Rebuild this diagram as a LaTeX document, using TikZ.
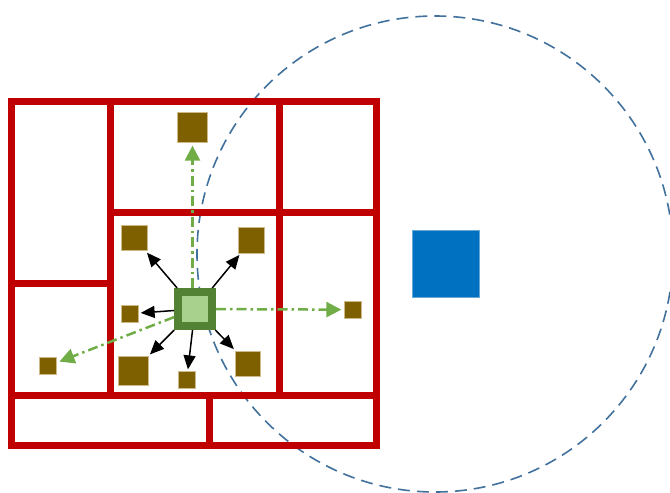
\documentclass[tikz,border=0pt]{standalone}
\usetikzlibrary{arrows.meta}
\definecolor{gridred}{HTML}{C00000}
\definecolor{ringblue}{HTML}{41719C}
\definecolor{dgreen}{HTML}{548235}
\definecolor{lgreen}{HTML}{A9D18E}
\definecolor{agreen}{HTML}{70AD47}
\definecolor{brownf}{HTML}{7F6000}
\definecolor{brownd}{HTML}{CDB98A}
\definecolor{bluef}{HTML}{0070C0}
\begin{document}
\begin{tikzpicture}[x=1pt,y=-1pt,
  wall/.style={draw=gridred,line width=7pt},
  ring/.style={draw=ringblue,line width=1.6pt,dash pattern=on 12pt off 7pt},
  obj/.style={rectangle,fill=brownf,draw=brownd,line width=0.8pt,inner sep=0pt,minimum width=#1,minimum height=#1},
  src/.style={rectangle,fill=lgreen,draw=dgreen,line width=8pt,inner sep=0pt,minimum size=34pt},
  tgt/.style={rectangle,fill=bluef,draw=bluef!60!white,line width=0.6pt,inner sep=0pt,minimum size=67pt},
  blk/.style={draw=black,line width=1.5pt,-{Triangle[length=14pt,width=12pt]},shorten >=2pt},
  grn/.style={draw=agreen,line width=2.5pt,dash pattern=on 10pt off 4pt on 2.5pt off 4pt,-{Triangle[length=15pt,width=15pt]},shorten >=3pt}]
\clip (0,0) rectangle (670,493);
% range circle
\coordinate (rc) at (435,254);
\draw[ring] (rc) circle (238);
% red walls
\draw[wall] (11,101.5) rectangle (376,445.5);
\draw[wall] (110,101.5) -- (110,395);
\draw[wall] (279,101.5) -- (279,395);
\draw[wall] (110,212.5) -- (376,212.5);
\draw[wall] (11,283) -- (110,283);
\draw[wall] (11,395) -- (376,395);
\draw[wall] (209.5,395) -- (209.5,445.5);
% blue square
\node[tgt] (b) at (445.5,264) {};
% source
\node[src] (s) at (195,309) {};
% objects
\node[obj=29.5pt] (top) at (192.5,127.5) {};
\node[obj=25.5pt] (ul) at (134.5,238) {};
\node[obj=26pt] (ur) at (251.7,240) {};
\node[obj=16.5pt] (l) at (130,313.7) {};
\node[obj=16.5pt] (r) at (353,309.7) {};
\node[obj=16.5pt] (fl) at (48,366) {};
\node[obj=29.5pt] (ll) at (133.5,371) {};
\node[obj=16.5pt] (bt) at (186.7,380) {};
\node[obj=25.5pt] (lr) at (248,363.7) {};
% arrows
\draw[blk] (s) -- (ul);
\draw[blk] (s) -- (ur);
\draw[blk] (s) -- (l);
\draw[blk] (s) -- (ll);
\draw[blk] (s) -- (bt);
\draw[blk] (s) -- (lr);
\draw[grn] (s.north -| top.center) -- (top);
\draw[grn] (s) -- (r);
\draw[grn] (s) -- (fl);
\end{tikzpicture}
\end{document}
